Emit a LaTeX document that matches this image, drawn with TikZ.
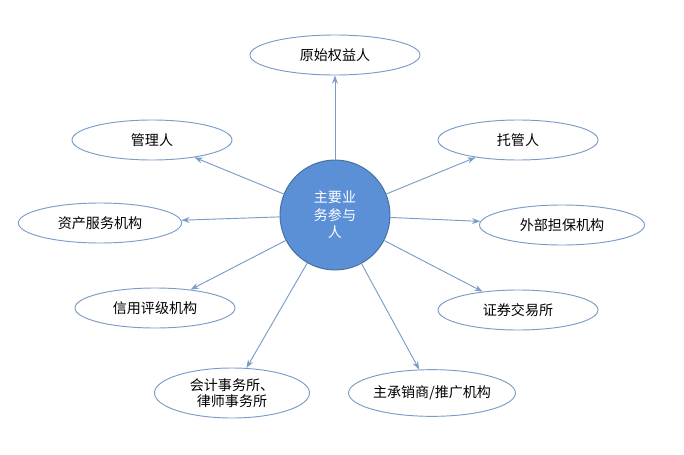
\documentclass[tikz,border=0pt]{standalone}
\usepackage{fontspec}
\setmainfont{Noto Sans CJK SC}
\usetikzlibrary{arrows.meta,shapes.geometric}
\definecolor{edge}{HTML}{7A9CC8}
\definecolor{hub}{HTML}{5B8FD6}
\definecolor{hubline}{HTML}{41719C}
\tikzset{
  leaf/.style={ellipse,draw=edge,line width=0.8pt,fill=white,minimum width=4.8cm,minimum height=1.2cm,inner sep=0pt,font=\fontsize{12}{14}\selectfont,align=center},
  conn/.style={draw=edge,line width=0.8pt,-{Stealth[length=7pt,width=5pt]}}
}
\begin{document}
\begin{tikzpicture}[x=0.03cm,y=-0.03cm]
\useasboundingbox (0,0) rectangle (684,454);
\node[circle,draw=hubline,line width=0.8pt,fill=hub,minimum size=3.3cm,text=white,font=\fontsize{12}{15}\selectfont,align=center] (c) at (335,215) {主要业\\务参与\\人};
\node[leaf,minimum width=5.1cm] (a) at (335,55) {原始权益人};
\node[leaf] (b) at (152,140) {管理人};
\node[leaf] (d) at (518,140) {托管人};
\node[leaf,minimum width=4.9cm] (e) at (100,223) {资产服务机构};
\node[leaf,minimum width=4.95cm] (f) at (562,225) {外部担保机构};
\node[leaf] (g) at (155,308) {信用评级机构};
\node[leaf] (h) at (518,310) {证券交易所};
\node[leaf,minimum width=4.65cm,minimum height=1.5cm] (i) at (232,393) {会计事务所、\\律师事务所};
\node[leaf,minimum width=4.85cm,minimum height=1.4cm] (j) at (432,393) {主承销商/推广机构};
\foreach \n in {a,b,d,e,f,g,h,i,j} \draw[conn] (c) -- (\n);
\end{tikzpicture}
\end{document}
